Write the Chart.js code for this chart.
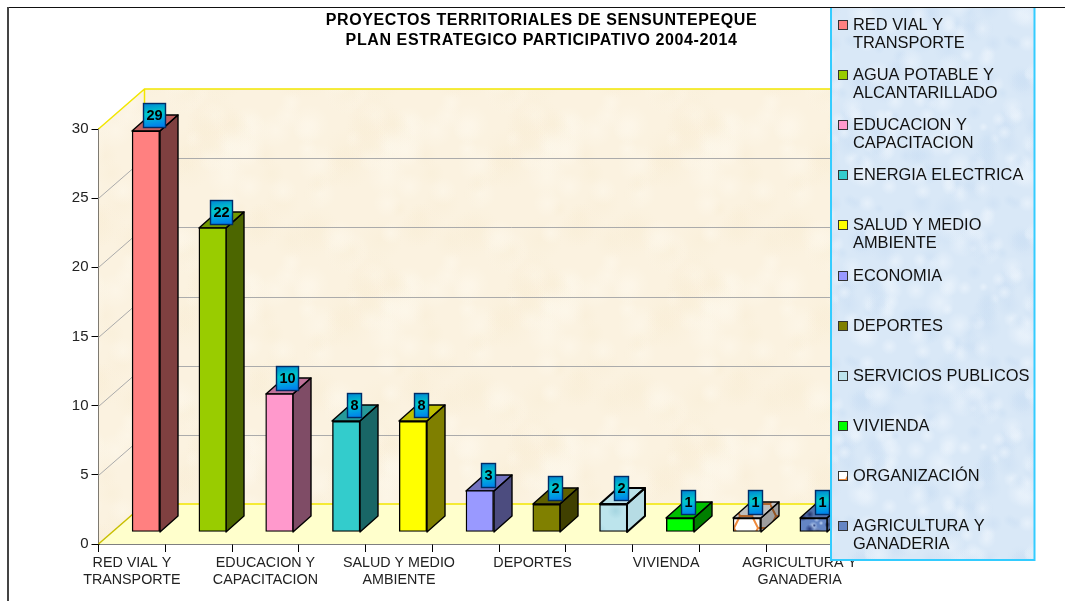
<!DOCTYPE html>
<html lang="es">
<head>
    <meta charset="UTF-8">
    <title>Proyectos territoriales de Sensuntepeque</title>
    <style>
        html, body { margin: 0; padding: 0; background: #fff; }
        canvas { display: block; }
    </style>
</head>
<body>
    <canvas id="grafico" width="1065" height="601"></canvas>
    <script src="https://cdn.jsdelivr.net/npm/chart.js@4"></script>
    <script>
    const titulo = ['PROYECTOS TERRITORIALES DE SENSUNTEPEQUE', 'PLAN ESTRATEGICO PARTICIPATIVO 2004-2014'];
    const categorias = [
        ['RED VIAL Y', 'TRANSPORTE'],
        ['AGUA POTABLE Y', 'ALCANTARILLADO'],
        ['EDUCACION Y', 'CAPACITACION'],
        ['ENERGIA ELECTRICA'],
        ['SALUD Y MEDIO', 'AMBIENTE'],
        ['ECONOMIA'],
        ['DEPORTES'],
        ['SERVICIOS PUBLICOS'],
        ['VIVIENDA'],
        ['ORGANIZACIÓN'],
        ['AGRICULTURA Y', 'GANADERIA']
    ];
    const proyectos = [29, 22, 10, 8, 8, 3, 2, 2, 1, 1, 1];
    const colores = ['#FF8080', '#99CC00', '#FF99CC', '#33CCCC', '#FFFF00', '#9999FF', '#808000', '#BCE4EC', '#00FF00', '#FFFFFF', '#6485C4'];
    // oscurecimiento de la cara lateral y de la tapa de cada barra
    const sombraLado = [.5, .5, .5, .5, .5, .5, .5, .03, .5, .38, .25];
    const sombraTapa = [.25, .25, .25, .25, .25, .25, .25, .01, .25, .25, .12];

    // ruido fijo para las texturas
    function ruido(n) {
        const s = Math.sin(n * 12.9898) * 43758.5453;
        return s - Math.floor(s);
    }

    function textura(base, manchas, cantidad, radio) {
        const c = document.createElement('canvas');
        c.width = 160; c.height = 160;
        const g = c.getContext('2d');
        g.fillStyle = base;
        g.fillRect(0, 0, 160, 160);
        for (let i = 0; i < cantidad; i++) {
            const x = ruido(i + 1) * 160, y = ruido(i + 101) * 160, r = radio * (.4 + ruido(i + 201));
            const color = manchas[i % manchas.length];
            for (const dx of [-160, 0, 160]) for (const dy of [-160, 0, 160]) {
                const rg = g.createRadialGradient(x + dx, y + dy, 0, x + dx, y + dy, r);
                rg.addColorStop(0, color);
                rg.addColorStop(1, color.replace(/[\d.]+\)$/, '0)'));
                g.fillStyle = rg;
                g.fillRect(x + dx - r, y + dy - r, 2 * r, 2 * r);
            }
        }
        return c;
    }

    // malla naranja de la barra ORGANIZACIÓN
    function texturaRed() {
        const c = document.createElement('canvas');
        c.width = 36; c.height = 24;
        const g = c.getContext('2d');
        g.fillStyle = '#fff';
        g.fillRect(0, 0, 36, 24);
        g.strokeStyle = '#EE8A3C';
        g.lineWidth = 2;
        g.beginPath();
        g.moveTo(0, 12); g.lineTo(6, 0); g.lineTo(18, 0); g.lineTo(24, 12); g.lineTo(18, 24); g.lineTo(6, 24); g.closePath();
        g.moveTo(24, 12); g.lineTo(36, 12);
        g.stroke();
        return c;
    }

    const ctxBase = document.getElementById('grafico').getContext('2d');
    const patronPared = ctxBase.createPattern(textura('#FBF2E0', ['rgba(253,247,234,.7)', 'rgba(249,238,215,.5)'], 50, 18), 'repeat');
    const patronLeyenda = ctxBase.createPattern(textura('#D9E8F7', ['rgba(236,244,252,.7)', 'rgba(205,224,244,.6)'], 110, 11), 'repeat');
    const relleno = colores.slice();
    relleno[7] = ctxBase.createPattern(textura('#BCE4EC', ['rgba(225,245,248,.9)', 'rgba(160,210,222,.8)'], 30, 8), 'repeat');
    relleno[9] = ctxBase.createPattern(texturaRed(), 'repeat');
    relleno[10] = ctxBase.createPattern(textura('#6485C4', ['rgba(190,210,240,1)', 'rgba(40,60,125,1)'], 220, 3.5), 'repeat');

    // fondo 3D, marco y título
    const fondo3d = {
        id: 'fondo3d',
        beforeDatasetsDraw(chart) {
            const { ctx, chartArea: a, scales: { y } } = chart;
            const px = 46, py = 40;
            ctx.save();
            ctx.fillStyle = patronPared;
            ctx.beginPath();
            ctx.moveTo(a.left, a.bottom); ctx.lineTo(a.left, a.top);
            ctx.lineTo(a.left + px, a.top - py); ctx.lineTo(a.right + px, a.top - py);
            ctx.lineTo(a.right + px, a.bottom - py); ctx.lineTo(a.left + px, a.bottom - py);
            ctx.closePath();
            ctx.fill();
            ctx.fillStyle = '#FFFFCC';
            ctx.beginPath();
            ctx.moveTo(a.left, a.bottom); ctx.lineTo(a.left + px, a.bottom - py);
            ctx.lineTo(a.right + px, a.bottom - py); ctx.lineTo(a.right, a.bottom);
            ctx.closePath();
            ctx.fill();
            ctx.lineWidth = 1;
            ctx.strokeStyle = '#ABABAB';
            y.ticks.forEach(t => {
                if (t.value === 0 || t.value === y.max) return;
                const p = Math.round(y.getPixelForValue(t.value)) + .5;
                ctx.beginPath();
                ctx.moveTo(a.left, p); ctx.lineTo(a.left + px, p - py); ctx.lineTo(a.right + px, p - py);
                ctx.stroke();
            });
            ctx.strokeStyle = '#F2E600';
            ctx.lineWidth = 1.5;
            ctx.beginPath();
            ctx.moveTo(a.left, a.top); ctx.lineTo(a.left + px, a.top - py); ctx.lineTo(a.right + px, a.top - py);
            ctx.moveTo(a.left + px, a.top - py); ctx.lineTo(a.left + px, a.bottom - py);
            ctx.moveTo(a.left + px, a.bottom - py); ctx.lineTo(a.right + px, a.bottom - py);
            ctx.stroke();
            ctx.strokeStyle = '#C8BE00';
            ctx.beginPath();
            ctx.moveTo(a.left, a.bottom); ctx.lineTo(a.left + px, a.bottom - py);
            ctx.stroke();
            ctx.restore();

            // caras laterales y tapas de las barras
            ctx.save();
            ctx.translate(14, -12);
            ctx.strokeStyle = '#000';
            ctx.lineJoin = 'round';
            chart.getDatasetMeta(0).data.forEach((b, i) => {
                const izq = Math.round(b.x - b.width / 2), der = Math.round(b.x + b.width / 2);
                const arriba = Math.round(b.y), abajo = Math.round(b.base);
                const lado = new Path2D();
                lado.moveTo(der, abajo); lado.lineTo(der + 18, abajo - 16);
                lado.lineTo(der + 18, arriba - 16); lado.lineTo(der, arriba);
                lado.closePath();
                const tapa = new Path2D();
                tapa.moveTo(izq, arriba); tapa.lineTo(izq + 18, arriba - 16);
                tapa.lineTo(der + 18, arriba - 16); tapa.lineTo(der, arriba);
                tapa.closePath();
                ctx.lineWidth = i === 7 ? 2 : 1.4;
                ctx.fillStyle = relleno[i];
                ctx.fill(lado); ctx.fill(tapa);
                ctx.fillStyle = 'rgba(0,0,0,' + sombraLado[i] + ')';
                ctx.fill(lado);
                ctx.fillStyle = 'rgba(0,0,0,' + sombraTapa[i] + ')';
                ctx.fill(tapa);
                ctx.stroke(lado); ctx.stroke(tapa);
            });
            // la cara frontal la dibuja Chart.js desplazada hacia el fondo
        },
        afterDatasetsDraw(chart) {
            const { ctx } = chart;
            ctx.restore();
            ctx.save();
            chart.getDatasetMeta(0).data.forEach((b, i) => {
                const texto = String(proyectos[i]);
                ctx.font = 'bold 14.5px "Liberation Sans"';
                const ancho = Math.round(ctx.measureText(texto).width) + 7;
                const cx = Math.round(b.x + 14 + 8), cy = Math.round(b.y - 12 - 16);
                const x = Math.round(cx - ancho / 2), y = cy - 12;
                const gr = ctx.createLinearGradient(x, y, x + 4, y + 25);
                gr.addColorStop(0, '#0080D8');
                gr.addColorStop(.45, '#00C8C8');
                gr.addColorStop(.6, '#00B8D8');
                gr.addColorStop(1, '#0080EC');
                ctx.fillStyle = gr;
                ctx.fillRect(x, y, ancho, 25);
                ctx.strokeStyle = '#002C66';
                ctx.lineWidth = 1.4;
                ctx.strokeRect(x + .5, y + .5, ancho - 1, 24);
                ctx.fillStyle = '#000';
                ctx.textAlign = 'center';
                ctx.textBaseline = 'middle';
                ctx.fillText(texto, x + ancho / 2, cy + 1);
            });
            ctx.restore();
        },
        afterDraw(chart) {
            const { ctx } = chart;
            ctx.save();
            // marco exterior
            ctx.fillStyle = '#111';
            ctx.fillRect(8, 7, 1057, 1);
            ctx.fillStyle = '#444';
            ctx.fillRect(7, 7, 2, 594);
            // título
            ctx.fillStyle = '#000';
            ctx.font = 'bold 16px "Liberation Sans"';
            ctx.letterSpacing = '0.6px';
            ctx.textAlign = 'center';
            ctx.textBaseline = 'middle';
            titulo.forEach((t, i) => ctx.fillText(t, 541.5, 21 + i * 19.5));
            ctx.letterSpacing = '0px';
            // leyenda
            ctx.fillStyle = patronLeyenda;
            ctx.fillRect(831, 8, 204, 553);
            ctx.strokeStyle = '#33CCFF';
            ctx.lineWidth = 2;
            ctx.beginPath();
            ctx.moveTo(831, 8); ctx.lineTo(831, 560); ctx.lineTo(1034.5, 560); ctx.lineTo(1034.5, 8);
            ctx.stroke();
            ctx.font = '16.4px "Liberation Sans"';
            ctx.textAlign = 'left';
            categorias.forEach((lineas, i) => {
                const y = Math.round(25 + i * 50.1);
                ctx.fillStyle = relleno[i];
                ctx.fillRect(838, y - 5, 10, 10);
                ctx.strokeStyle = '#333';
                ctx.lineWidth = 1;
                ctx.strokeRect(838.5, y - 4.5, 9, 9);
                ctx.fillStyle = '#111';
                lineas.forEach((l, k) => ctx.fillText(l, 853, y + k * 18));
            });
            ctx.restore();
        }
    };

    new Chart(ctxBase, {
        type: 'bar',
        data: {
            labels: categorias,
            datasets: [{
                data: proyectos,
                backgroundColor: relleno,
                borderColor: '#000',
                borderWidth: 1.4,
                borderSkipped: false,
                barThickness: 27.5
            }]
        },
        plugins: [fondo3d],
        options: {
            responsive: false,
            animation: false,
            layout: { padding: { top: 129, right: 232, left: 0, bottom: 0 } },
            plugins: { legend: { display: false }, tooltip: { enabled: false } },
            scales: {
                x: {
                    afterFit(s) { s.height = 57; },
                    border: { color: '#000', width: 1.5 },
                    grid: { offset: true, drawOnChartArea: false, tickLength: 8, color: '#000' },
                    ticks: {
                        autoSkip: false,
                        maxRotation: 0,
                        padding: 2,
                        color: '#222',
                        font: { family: '"Liberation Sans"', size: 14.3 },
                        callback(v, i) { return i % 2 === 0 ? categorias[i] : ''; }
                    }
                },
                y: {
                    min: 0,
                    max: 30,
                    afterFit(s) { s.width = 98.5; },
                    border: { color: '#000', width: 1.5 },
                    grid: { drawOnChartArea: false, tickLength: 7, color: '#000' },
                    ticks: {
                        stepSize: 5,
                        padding: 3,
                        color: '#222',
                        font: { family: '"Liberation Sans"', size: 15 }
                    }
                }
            }
        }
    });
    </script>
</body>
</html>
